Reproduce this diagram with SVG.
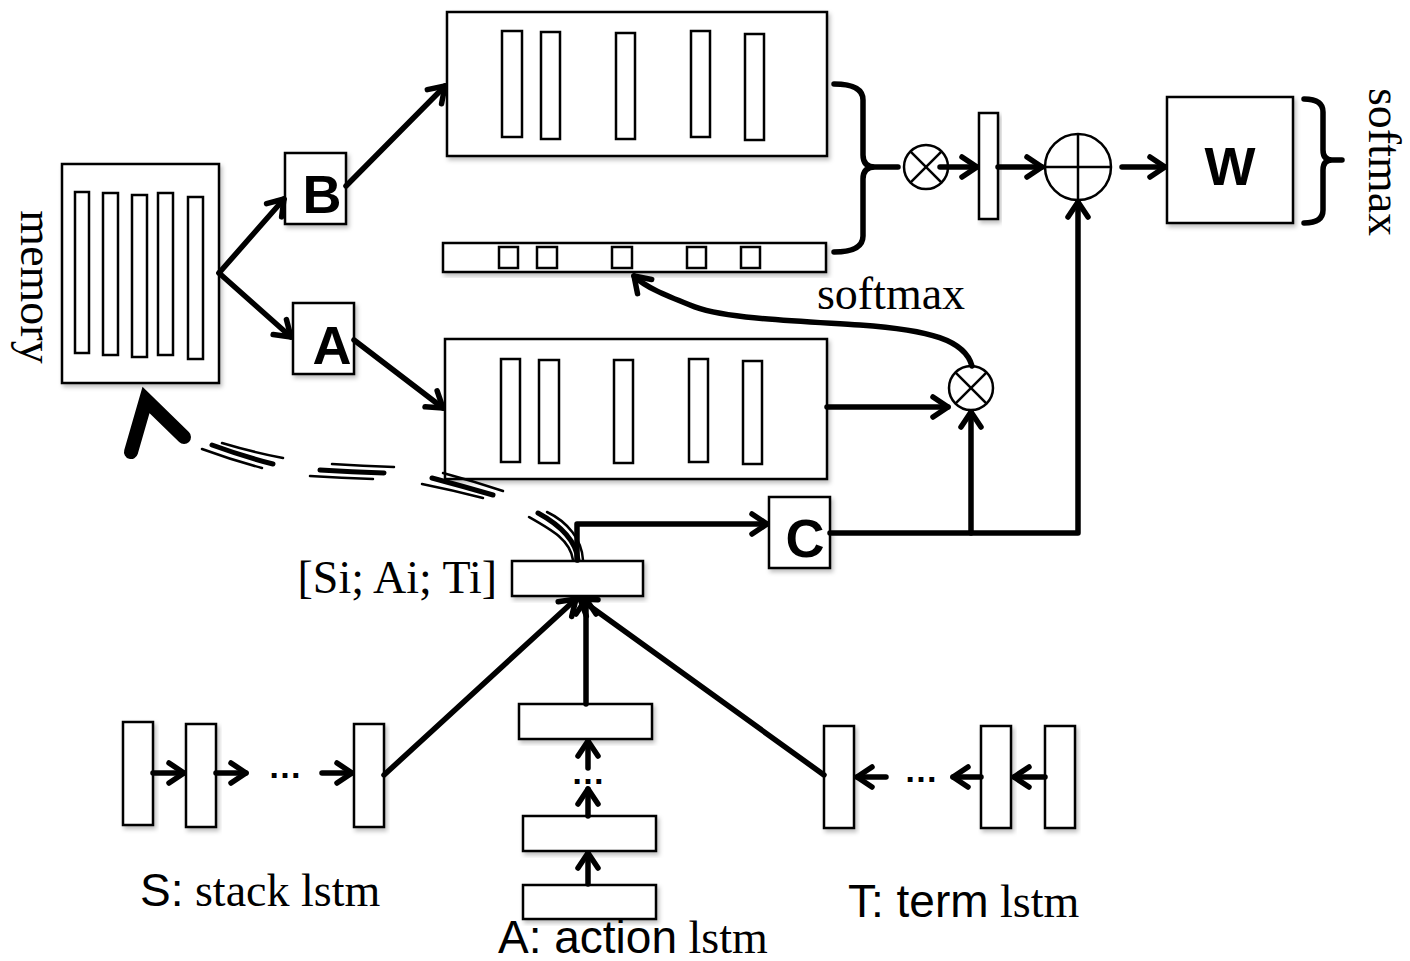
<svg xmlns="http://www.w3.org/2000/svg" width="1410" height="961" viewBox="0 0 1410 961">
<style>
.box{fill:#fff;stroke:#000;stroke-width:2.5;filter:url(#sh)}
.in{fill:#fff;stroke:#000;stroke-width:2.5}
.conn{fill:none;stroke:#000;stroke-width:5.5;stroke-linecap:round;stroke-linejoin:round}
.arr{marker-end:url(#ah)}
.thin{fill:none;stroke:#000;stroke-width:2.5;stroke-linecap:round}
.thick{fill:none;stroke:#000;stroke-width:5;stroke-linecap:round}
.op{fill:#fff;stroke:#000;stroke-width:2.5}
.opl{stroke:#000;stroke-width:2.5}
.serif{font-family:"Liberation Serif","Times New Roman",serif;font-size:46px;fill:#000}
.sans{font-family:"Liberation Sans",Arial,sans-serif}
.bold{font-family:"Liberation Sans",Arial,sans-serif;font-weight:bold;font-size:54px;text-anchor:middle;fill:#000}
.dots{font-family:"Liberation Sans",Arial,sans-serif;font-weight:bold;font-size:34px;text-anchor:middle;fill:#000}
</style>
<defs>
<filter id="sh" x="-10%" y="-10%" width="130%" height="130%">
<feDropShadow dx="2" dy="3" stdDeviation="2" flood-color="#000" flood-opacity="0.25"/>
</filter>
<marker id="ah" viewBox="0 0 24 24" refX="19" refY="12" markerWidth="24" markerHeight="24" markerUnits="userSpaceOnUse" orient="auto" overflow="visible">
<path d="M4,2 L19,12 L4,22" fill="none" stroke="#000" stroke-width="5.5" stroke-linecap="round" stroke-linejoin="round"/>
</marker>
</defs>
<rect width="1410" height="961" fill="#fff"/>

<g id="memory">
<rect class="box" x="62" y="164" width="157" height="219"/>
<rect class="in" x="75" y="192" width="14" height="161"/>
<rect class="in" x="103" y="193" width="15" height="162"/>
<rect class="in" x="132" y="195" width="15" height="162"/>
<rect class="in" x="158" y="193" width="15" height="162"/>
<rect class="in" x="188" y="197" width="15" height="162"/>
<text class="serif" transform="translate(21,287) rotate(90)" text-anchor="middle">memory</text>
</g>

<g id="B">
<rect class="box" x="285" y="153" width="61" height="71"/>
<text class="bold" x="322" y="213">B</text>
</g>

<g id="A">
<rect class="box" x="293" y="303" width="61" height="71"/>
<text class="bold" x="332" y="364">A</text>
</g>

<g id="mem_out">
<rect class="box" x="447" y="12" width="380" height="144"/>
<rect class="in" x="502" y="31" width="20" height="106"/>
<rect class="in" x="541" y="32" width="19" height="107"/>
<rect class="in" x="616" y="33" width="19" height="106"/>
<rect class="in" x="691" y="31" width="19" height="106"/>
<rect class="in" x="745" y="34" width="19" height="106"/>
</g>

<g id="attention">
<rect class="box" x="443" y="243" width="383" height="29"/>
<rect class="in" x="499" y="247" width="19" height="21"/>
<rect class="in" x="537" y="247" width="20" height="21"/>
<rect class="in" x="612" y="247" width="20" height="21"/>
<rect class="in" x="687" y="247" width="19" height="21"/>
<rect class="in" x="741" y="247" width="19" height="21"/>
</g>

<g id="mem_in">
<rect class="box" x="445" y="339" width="382" height="140"/>
<rect class="in" x="501" y="359" width="19" height="103"/>
<rect class="in" x="539" y="360" width="20" height="103"/>
<rect class="in" x="614" y="360" width="19" height="103"/>
<rect class="in" x="689" y="359" width="19" height="103"/>
<rect class="in" x="743" y="361" width="19" height="103"/>
</g>

<g id="otimes1">
<circle class="op" cx="926" cy="167" r="22"/>
<line class="opl" x1="910.4" y1="151.4" x2="941.6" y2="182.6"/>
<line class="opl" x1="941.6" y1="151.4" x2="910.4" y2="182.6"/>
</g>

<g id="o_vec">
<rect class="box" x="979" y="113" width="19" height="106"/>
</g>

<g id="oplus">
<circle class="op" cx="1078" cy="167" r="33"/>
<line class="opl" x1="1045" y1="167" x2="1111" y2="167"/>
<line class="opl" x1="1078" y1="134" x2="1078" y2="200"/>
</g>

<g id="W">
<rect class="box" x="1167" y="97" width="126" height="126"/>
<text class="bold" x="1230" y="185" font-size="56">W</text>
</g>

<g id="softmax_out">
<text class="serif" transform="translate(1369,162) rotate(90)" text-anchor="middle">softmax</text>
</g>

<g id="otimes2">
<circle class="op" cx="971" cy="388" r="22"/>
<line class="opl" x1="955.4" y1="372.4" x2="986.6" y2="403.6"/>
<line class="opl" x1="986.6" y1="372.4" x2="955.4" y2="403.6"/>
</g>

<g id="softmax_mid">
<text class="serif" x="891" y="309" text-anchor="middle">softmax</text>
</g>

<g id="C">
<rect class="box" x="769" y="497" width="61" height="71"/>
<text class="bold" x="805" y="557">C</text>
</g>

<g id="SAT">
<rect class="box" x="512" y="561" width="131" height="35"/>
<text class="serif" x="497" y="593" text-anchor="end">[Si; Ai; Ti]</text>
</g>

<g id="stack_lstm">
<rect class="box" x="123" y="722" width="30" height="103"/>
<rect class="box" x="186" y="724" width="30" height="103"/>
<rect class="box" x="354" y="724" width="30" height="103"/>
<text class="dots" x="285" y="778">…</text>
<text class="serif" x="140" y="906"><tspan class="sans">S:</tspan> stack lstm</text>
</g>

<g id="action_lstm">
<rect class="box" x="519" y="704" width="133" height="35"/>
<rect class="box" x="523" y="816" width="133" height="35"/>
<rect class="box" x="523" y="885" width="133" height="34"/>
<text class="dots" x="588" y="784">…</text>
<text class="serif" x="498" y="953"><tspan class="sans">A: action</tspan> lstm</text>
</g>

<g id="term_lstm">
<rect class="box" x="824" y="726" width="30" height="102"/>
<rect class="box" x="981" y="726" width="30" height="102"/>
<rect class="box" x="1045" y="726" width="30" height="102"/>
<text class="dots" x="921" y="782">…</text>
<text class="serif" x="848" y="917"><tspan class="sans">T: term</tspan> lstm</text>
</g>

<g id="connectors">
<path class="conn arr" d="M219,273 L284,199"/>
<path class="conn arr" d="M219,273 L291,337"/>
<path class="conn arr" d="M346,186 L445,86"/>
<path class="conn arr" d="M354,340 L443,408"/>
<path class="conn arr" d="M827,407 L948,407"/>
<path class="conn arr" d="M972,366 C965,340 930,330 860,325 C780,320 720,318 690,305 C665,295 645,287 634,276"/>
<path class="conn" d="M834,84 Q863,84 863,100 L863,155 Q863,167 875,167 L898,167 M875,167 Q863,167 863,179 L863,236 Q863,252 834,252"/>
<path class="conn" d="M1304,99 Q1323,99 1323,112 L1323,150 Q1323,160 1332,160 L1342,160 M1332,160 Q1323,160 1323,170 L1323,210 Q1323,223 1304,223"/>
<path class="conn arr" d="M940,167 L977,167"/>
<path class="conn arr" d="M998,167 L1042,167"/>
<path class="conn arr" d="M1122,167 L1165,167"/>
<path class="conn arr" d="M830,533 L1078,533 L1078,202"/>
<path class="conn arr" d="M971,533 L971,412"/>
<path class="conn arr" d="M577,560 L577,524 L767,524"/>
<path class="conn arr" d="M153,773 L184,773"/>
<path class="conn arr" d="M216,773 L246,773"/>
<path class="conn arr" d="M322,773 L352,773"/>
<path class="conn arr" d="M384,775 L576,599"/>
<path class="conn arr" d="M588,884 L588,853"/>
<path class="conn arr" d="M588,816 L588,789"/>
<path class="conn arr" d="M588,768 L588,741"/>
<path class="conn arr" d="M586,704 L586,599"/>
<path class="conn arr" d="M886,777 L857,777"/>
<path class="conn arr" d="M981,777 L953,777"/>
<path class="conn arr" d="M1045,777 L1014,777"/>
<path class="conn arr" d="M824,775 L580,599"/>
<path class="thin" d="M529,517 C552,530 570,540 573,560"/>
<path class="thick" d="M538,513 C560,525 576,540 578,560"/>
<path class="thin" d="M547,512 C568,522 582,540 583,560"/>
<path class="thin" d="M202,449 Q232,460 262,468"/>
<path class="thick" d="M212,445 Q242,456 273,464"/>
<path class="thin" d="M222,443 Q252,452 283,458"/>
<path class="thin" d="M310,476 Q342,478 373,479"/>
<path class="thick" d="M320,470 Q352,472 384,473"/>
<path class="thin" d="M332,464 Q363,466 394,467"/>
<path class="thin" d="M422,484 Q452,490 483,498"/>
<path class="thick" d="M432,478 Q462,486 493,495"/>
<path class="thin" d="M443,473 Q473,481 503,491"/>
<path d="M131,452 L146,400 L184,437" fill="none" stroke="#000" stroke-width="14" stroke-linecap="round" stroke-linejoin="miter" stroke-miterlimit="10"/>
</g>
</svg>
